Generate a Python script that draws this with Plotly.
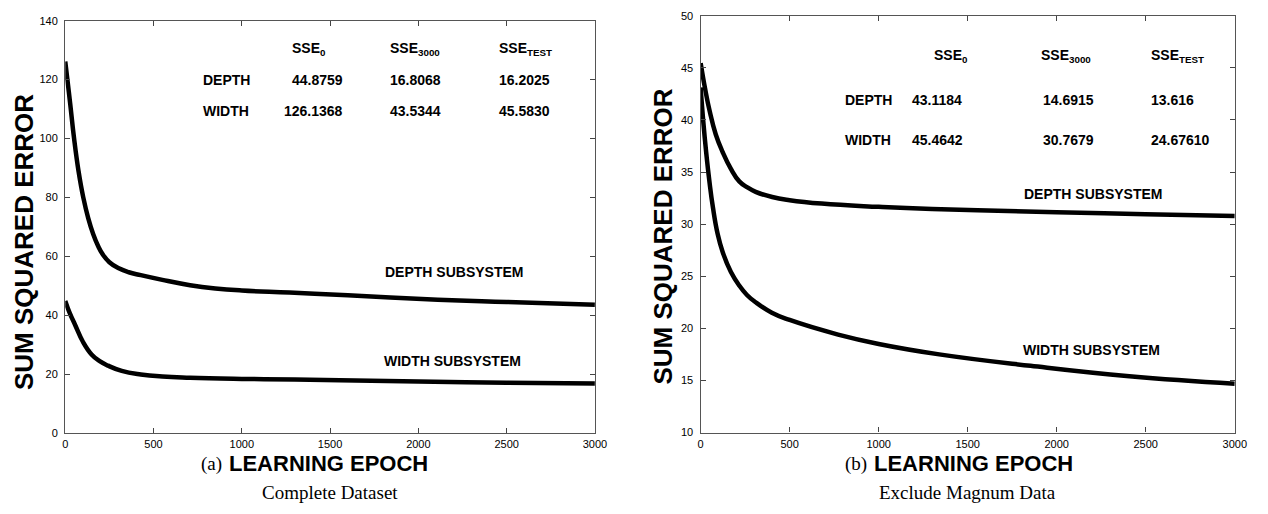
import plotly.graph_objects as go

W, H = 1268, 514

# ---- data: learning curves (sum squared error vs. learning epoch) ----
# (a) complete dataset
a_depth_epoch = [0, 14, 28, 50, 75, 102, 130, 158, 186, 214, 250, 300, 360, 428, 550, 707,
                 850, 1000, 1270, 1600, 2110, 2500, 3000]
a_depth_sse = [126.14, 119.0, 111.8, 100.0, 89.0, 80.0, 73.0, 67.6, 63.5, 60.5, 58.0, 56.0,
               54.6, 53.6, 52.0, 50.2, 49.1, 48.4, 47.7, 46.8, 45.3, 44.5, 43.53]
a_width_epoch = [0, 25, 56, 100, 149, 195, 242, 320, 428, 550, 707, 1000, 1300, 2000, 2500, 3000]
a_width_sse = [44.88, 40.8, 36.7, 31.0, 26.7, 24.4, 22.9, 21.1, 19.9, 19.2, 18.8, 18.4, 18.15,
               17.5, 17.1, 16.81]

# (b) exclude magnum data
b_depth_epoch = [0, 25, 50, 85, 124, 170, 217, 260, 309, 402, 500, 680, 1000, 1300, 2000, 2500, 3000]
b_depth_sse = [45.46, 43.0, 40.9, 38.6, 36.9, 35.3, 34.1, 33.55, 33.1, 32.6, 32.3, 31.97, 31.66,
               31.45, 31.15, 30.95, 30.77]
b_width_epoch = [0, 15, 31, 50, 69, 95, 124, 170, 217, 260, 309, 400, 500, 772, 1000, 1340,
                 1853, 2408, 3000]
b_width_sse = [43.12, 39.8, 36.9, 34.0, 31.6, 29.1, 27.3, 25.4, 24.1, 23.2, 22.5, 21.5, 20.8,
               19.4, 18.5, 17.5, 16.4, 15.4, 14.69]

# summary tables
table_cols = ["SSE<sub>0</sub>", "SSE<sub>3000</sub>", "SSE<sub>TEST</sub>"]
table_rows = ["DEPTH", "WIDTH"]
a_table = [["44.8759", "16.8068", "16.2025"], ["126.1368", "43.5344", "45.5830"]]
b_table = [["43.1184", "14.6915", "13.616"], ["45.4642", "30.7679", "24.67610"]]

x_ticks = [0, 500, 1000, 1500, 2000, 2500, 3000]
a_y_ticks = [0, 20, 40, 60, 80, 100, 120, 140]
b_y_ticks = [10, 15, 20, 25, 30, 35, 40, 45, 50]

SANS = "Liberation Sans"
SERIF = "Liberation Serif"


def px(x):
    return x / W


def py(y):
    return 1 - y / H


fig = go.Figure()

line_style = dict(color="black", width=4.5, shape="spline", smoothing=1.3)
for xs, ys, xa, ya in [
    (a_depth_epoch, a_depth_sse, "x", "y"),
    (a_width_epoch, a_width_sse, "x", "y"),
    (b_depth_epoch, b_depth_sse, "x2", "y2"),
    (b_width_epoch, b_width_sse, "x2", "y2"),
]:
    fig.add_trace(go.Scatter(x=xs, y=ys, mode="lines", line=line_style,
                             xaxis=xa, yaxis=ya, showlegend=False, hoverinfo="skip"))

axis_common = dict(
    showgrid=False, zeroline=False, showline=True, linecolor="#555", linewidth=1.4,
    mirror="ticks", ticks="inside", ticklen=5, tickwidth=1, tickcolor="#444",
    tickfont=dict(family=SANS, size=11, color="black"),
)

fig.update_layout(
    width=W, height=H, margin=dict(l=0, r=0, t=0, b=0),
    paper_bgcolor="white", plot_bgcolor="white",
    xaxis=dict(domain=[px(63), px(599)], range=[0, 3000], tickvals=x_ticks,
               anchor="y", ticklabelstandoff=1, **axis_common),
    yaxis=dict(domain=[py(437.3), py(15)], range=[0, 140], tickvals=a_y_ticks,
               anchor="x", ticklabelstandoff=4, **axis_common),
    xaxis2=dict(domain=[px(706), px(1246.5)], range=[0, 3000], tickvals=x_ticks,
                anchor="y2", ticklabelstandoff=1, **axis_common),
    yaxis2=dict(domain=[py(436.7), py(10)], range=[10, 50], tickvals=b_y_ticks,
                anchor="x2", ticklabelstandoff=4, **axis_common),
)

ann = []


def text(x, y, s, size=14, family=SANS, bold=True, xanchor="center", angle=0):
    ann.append(dict(x=px(x), y=py(y), xref="paper", yref="paper", text=s,
                    showarrow=False, xanchor=xanchor, yanchor="middle", textangle=angle,
                    font=dict(family=family, size=size, color="black",
                              weight="bold" if bold else "normal")))


# axis titles and captions
for cx, cy, tag, lx in [(22, 242, "(a)", 224), (668, 236, "(b)", 876)]:
    text(cx, cy, "SUM SQUARED ERROR", size=26, angle=-90)
    text(lx, 469, tag, size=19, family=SERIF, bold=False, xanchor="right")
    text(lx + 3, 468, "LEARNING EPOCH", size=22, xanchor="left")

text(331, 498, "Complete Dataset", size=19, family=SERIF, bold=False)
text(976, 498, "Exclude Magnum Data", size=19, family=SERIF, bold=False)

# curve labels
text(456, 272, "DEPTH SUBSYSTEM", size=14)
text(455, 363, "WIDTH SUBSYSTEM", size=14)
text(1103, 192, "DEPTH SUBSYSTEM", size=14)
text(1102, 352, "WIDTH SUBSYSTEM", size=14)

# summary tables
# left table
col_x_a = [290, 390, 500]
for c, h in enumerate(table_cols):
    text(col_x_a[c], 44, h, size=14, xanchor="left")
for r, (name, ry) in enumerate(zip(table_rows, [76, 108])):
    text(200, ry, name, size=14, xanchor="left")
    text(346, ry, a_table[r][0], size=14, xanchor="right")
    text(390, ry, a_table[r][1], size=14, xanchor="left")
    text(500, ry, a_table[r][2], size=14, xanchor="left")

# right table
col_x_b = [940, 1048, 1160]
for c, h in enumerate(table_cols):
    text(col_x_b[c], 51, h, size=14, xanchor="left")
for r, (name, ry) in enumerate(zip(table_rows, [96, 137])):
    text(850, ry, name, size=14, xanchor="left")
    text(918, ry, b_table[r][0], size=14, xanchor="left")
    text(1050, ry, b_table[r][1], size=14, xanchor="left")
    text(1160, ry, b_table[r][2], size=14, xanchor="left")

fig.update_layout(annotations=ann)
fig.write_html("out.html")
